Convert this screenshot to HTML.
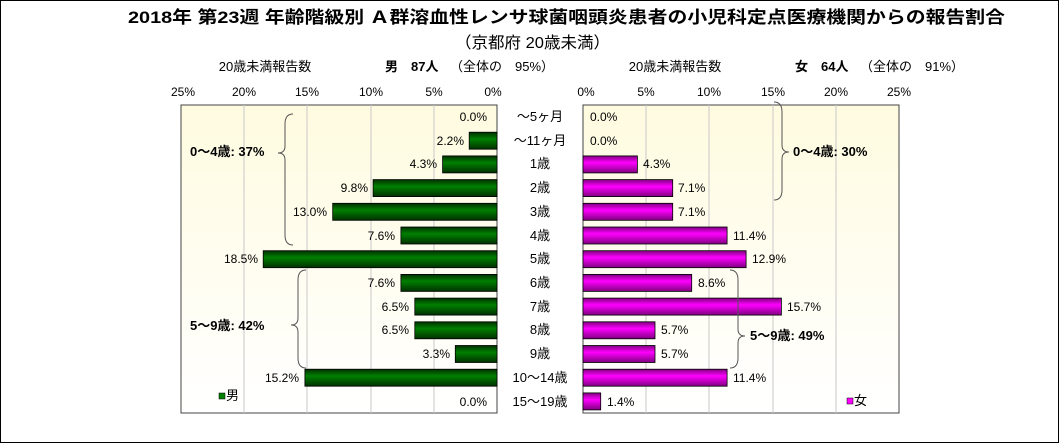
<!DOCTYPE html><html><head><meta charset="utf-8"><style>
body{margin:0;background:#fff;}
svg text{font-family:"Liberation Sans","Noto Sans CJK JP",sans-serif;}
</style></head><body>
<svg width="1059" height="443" xmlns="http://www.w3.org/2000/svg">
<defs>
<linearGradient id="bg" x1="0" y1="0" x2="0" y2="1"><stop offset="0" stop-color="#fffbe0"/><stop offset="1" stop-color="#ffffff"/></linearGradient>
<linearGradient id="g" x1="0" y1="0" x2="0" y2="1"><stop offset="0" stop-color="#003000"/><stop offset="0.4" stop-color="#008000"/><stop offset="1" stop-color="#003000"/></linearGradient>
<linearGradient id="m" x1="0" y1="0" x2="0" y2="1"><stop offset="0" stop-color="#800080"/><stop offset="0.4" stop-color="#ff00ff"/><stop offset="1" stop-color="#800080"/></linearGradient>
</defs>
<rect x="0.5" y="0.5" width="1058" height="442" fill="#fff" stroke="#000"/>
<text x="128" y="23" font-size="17" font-weight="bold" textLength="877" lengthAdjust="spacingAndGlyphs">2018年 第23週 年齢階級別 Ａ群溶血性レンサ球菌咽頭炎患者の小児科定点医療機関からの報告割合</text>
<text x="455" y="48" font-size="16" textLength="155" lengthAdjust="spacingAndGlyphs">（京都府 20歳未満）</text>
<text x="265" y="71" font-size="13" text-anchor="middle">20歳未満報告数</text>
<text x="385" y="71" font-size="13" font-weight="bold">男　87人</text>
<text x="450" y="71" font-size="13">（全体の　95%）</text>
<text x="675" y="71" font-size="13" text-anchor="middle">20歳未満報告数</text>
<text x="795" y="71" font-size="13" font-weight="bold">女　64人</text>
<text x="860" y="71" font-size="13">（全体の　91%）</text>
<rect x="181" y="105" width="316" height="308" fill="url(#bg)" stroke="#444"/>
<rect x="583" y="105" width="316" height="308" fill="url(#bg)" stroke="#444"/>
<g stroke="#c8c8c8">
<line x1="244" y1="105" x2="244" y2="413"/><line x1="307" y1="105" x2="307" y2="413"/><line x1="371" y1="105" x2="371" y2="413"/><line x1="434" y1="105" x2="434" y2="413"/>
<line x1="646" y1="105" x2="646" y2="413"/><line x1="709" y1="105" x2="709" y2="413"/><line x1="773" y1="105" x2="773" y2="413"/><line x1="836" y1="105" x2="836" y2="413"/>
</g>
<g font-size="12" text-anchor="middle">
<text x="183" y="96">25%</text><text x="244" y="96">20%</text><text x="307" y="96">15%</text><text x="371" y="96">10%</text><text x="434" y="96">5%</text><text x="493" y="96">0%</text>
<text x="586" y="96">0%</text><text x="646" y="96">5%</text><text x="709" y="96">10%</text><text x="773" y="96">15%</text><text x="836" y="96">20%</text><text x="899" y="96">25%</text>
</g>
<g font-size="12">
<g fill="url(#g)" stroke="#000" stroke-width="0.8">
<rect x="469.2" y="132.2" width="27.8" height="17"/>
<rect x="442.6" y="155.9" width="54.4" height="17"/>
<rect x="373.1" y="179.6" width="123.9" height="17"/>
<rect x="332.7" y="203.3" width="164.3" height="17"/>
<rect x="400.9" y="227" width="96.1" height="17"/>
<rect x="263.2" y="250.7" width="233.8" height="17"/>
<rect x="400.9" y="274.4" width="96.1" height="17"/>
<rect x="414.8" y="298.1" width="82.2" height="17"/>
<rect x="414.8" y="321.8" width="82.2" height="17"/>
<rect x="455.3" y="345.5" width="41.7" height="17"/>
<rect x="304.9" y="369.2" width="192.1" height="17"/>
</g>
<g text-anchor="end">
<text x="487" y="121">0.0%</text><text x="464" y="145">2.2%</text><text x="437" y="168">4.3%</text><text x="368" y="192">9.8%</text><text x="327" y="216">13.0%</text><text x="395" y="240">7.6%</text><text x="258" y="263">18.5%</text><text x="395" y="287">7.6%</text><text x="409" y="311">6.5%</text><text x="409" y="334">6.5%</text><text x="450" y="358">3.3%</text><text x="299" y="382">15.2%</text><text x="487" y="406">0.0%</text>
</g>
<g fill="url(#m)" stroke="#000" stroke-width="0.8">
<rect x="583" y="155.9" width="54.4" height="17"/>
<rect x="583" y="179.6" width="89.7" height="17"/>
<rect x="583" y="203.3" width="89.7" height="17"/>
<rect x="583" y="227" width="144.1" height="17"/>
<rect x="583" y="250.7" width="163.1" height="17"/>
<rect x="583" y="274.4" width="108.7" height="17"/>
<rect x="583" y="298.1" width="198.4" height="17"/>
<rect x="583" y="321.8" width="72" height="17"/>
<rect x="583" y="345.5" width="72" height="17"/>
<rect x="583" y="369.2" width="144.1" height="17"/>
<rect x="583" y="392.9" width="17.7" height="17"/>
</g>
<text x="590" y="121">0.0%</text><text x="590" y="145">0.0%</text><text x="643" y="168">4.3%</text><text x="678" y="192">7.1%</text><text x="678" y="216">7.1%</text><text x="733" y="240">11.4%</text><text x="752" y="263">12.9%</text><text x="698" y="287">8.6%</text><text x="787" y="311">15.7%</text><text x="661" y="334">5.7%</text><text x="661" y="358">5.7%</text><text x="733" y="382">11.4%</text><text x="607" y="406">1.4%</text>
</g>
<g font-size="13" text-anchor="middle">
<text x="540" y="121">～5ヶ月</text><text x="540" y="145">～11ヶ月</text><text x="540" y="168">1歳</text><text x="540" y="192">2歳</text><text x="540" y="216">3歳</text><text x="540" y="240">4歳</text><text x="540" y="263">5歳</text><text x="540" y="287">6歳</text><text x="540" y="311">7歳</text><text x="540" y="334">8歳</text><text x="540" y="358">9歳</text><text x="540" y="382">10～14歳</text><text x="540" y="406">15～19歳</text>
</g>
<g fill="none" stroke="#555" stroke-width="1">
<path d="M293,114 Q285,114 285,124 L285,146 Q285,153 278,153 Q285,153 285,160 L285,235 Q285,245 293,245"/>
<path d="M306,270 Q298,270 298,280 L298,318 Q298,325 291,325 Q298,325 298,332 L298,358 Q298,368 306,368"/>
<path d="M774,102 Q782,102 782,112 L782,145 Q782,152 789,152 Q782,152 782,159 L782,190 Q782,200 774,200"/>
<path d="M730,270 Q738,270 738,280 L738,329 Q738,336 745,336 Q738,336 738,343 L738,358 Q738,368 730,368"/>
</g>
<g font-size="13" font-weight="bold">
<text x="190" y="156">0～4歳: 37%</text>
<text x="190" y="330">5～9歳: 42%</text>
<text x="793" y="156">0～4歳: 30%</text>
<text x="750" y="340">5～9歳: 49%</text>
</g>
<rect x="219" y="393" width="6" height="6" fill="#008000" stroke="#000" stroke-width="0.5"/>
<text x="226" y="400" font-size="13">男</text>
<rect x="847" y="398" width="6" height="6" fill="#ff00ff" stroke="#000" stroke-width="0.5"/>
<text x="854" y="405" font-size="13">女</text>
</svg>
</body></html>
